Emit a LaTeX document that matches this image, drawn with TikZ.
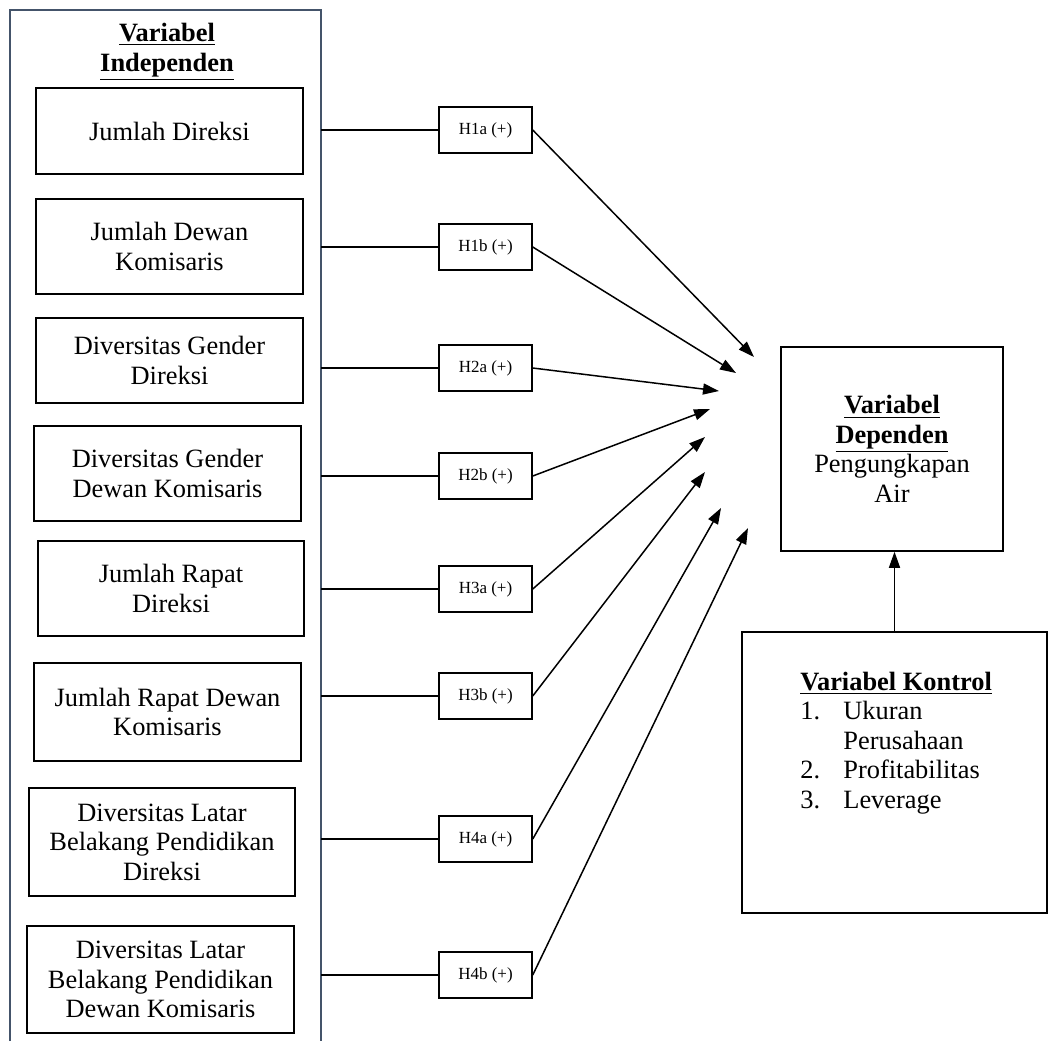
\documentclass[tikz,border=0pt]{standalone}
\usepackage{fontspec}
\setmainfont{Liberation Serif}
\usetikzlibrary{arrows.meta,calc}
\definecolor{framecol}{RGB}{68,84,106}
\begin{document}
\begin{tikzpicture}[x=0.5pt,y=-0.5pt,
  mainfont/.style={font=\fontsize{13.2}{14.8}\selectfont},
  varbox/.style={draw, line width=0.75pt, inner sep=0pt, align=center, mainfont, minimum width=133.5pt},
  hyp/.style={draw, line width=0.75pt, inner sep=0pt, minimum width=46.5pt, minimum height=23pt, font=\fontsize{8.5}{10}\selectfont},
  link/.style={line width=0.75pt},
  arr/.style={line width=0.75pt, -{Triangle[length=8pt,width=5.5pt]}},
  framestyle/.style={draw=framecol, line width=0.8pt}]
\useasboundingbox (0,0) rectangle (1050,1041);
\fill[white] (0,0) rectangle (1050,1041);

% outer frame (open at the bottom)
\draw[framestyle] (10,1041) -- (10,10) -- (321,10) -- (321,1041);
\coordinate (frR) at (321,10);

\node[mainfont, align=center, inner sep=0pt] (indep) at (167,52) {\underline{\textbf{Variabel}}\\\underline{\textbf{Independen}}};

% independent variable boxes
\node[varbox, minimum height=43pt] (v1) at (169.5,131) {Jumlah Direksi};
\node[varbox, minimum height=47.5pt] (v2) at (169.5,246.5) {Jumlah Dewan\\Komisaris};
\node[varbox, minimum height=42.5pt] (v3) at (169.5,360.5) {Diversitas Gender\\Direksi};
\node[varbox, minimum height=47.5pt] (v4) at (167.5,473.5) {Diversitas Gender\\Dewan Komisaris};
\node[varbox, minimum height=47.5pt, minimum width=133pt] (v5) at (171,588.5) {Jumlah Rapat\\Direksi};
\node[varbox, minimum height=49pt] (v6) at (167.5,712) {Jumlah Rapat Dewan\\Komisaris};
\node[varbox, minimum height=54pt, minimum width=133pt] (v7) at (162,842) {Diversitas Latar\\Belakang Pendidikan\\Direksi};
\node[varbox, minimum height=53.5pt] (v8) at (160.5,979.5) {Diversitas Latar\\Belakang Pendidikan\\Dewan Komisaris};

% hypothesis boxes
\node[hyp] (h1) at (485.5,130) {H1a (+)};
\node[hyp] (h2) at (485.5,247) {H1b (+)};
\node[hyp] (h3) at (485.5,368) {H2a (+)};
\node[hyp] (h4) at (485.5,476) {H2b (+)};
\node[hyp] (h5) at (485.5,589) {H3a (+)};
\node[hyp] (h6) at (485.5,696) {H3b (+)};
\node[hyp] (h7) at (485.5,839) {H4a (+)};
\node[hyp] (h8) at (485.5,975) {H4b (+)};

\foreach \h in {h1,h2,h3,h4,h5,h6,h7,h8}
  \draw[link] (\h.west -| frR) -- (\h.west);

% arrow tips
\coordinate (t1) at (754,357);
\coordinate (t2) at (736,373);
\coordinate (t3) at (719,391);
\coordinate (t4) at (710,409);
\coordinate (t5) at (705,437);
\coordinate (t6) at (705,472);
\coordinate (t7) at (721,508);
\coordinate (t8) at (748,528);

\draw[arr] (h1.east) -- (t1);
\draw[arr] (h2.east) -- (t2);
\draw[arr] (h3.east) -- (t3);
\draw[arr] (h4.east) -- (t4);
\draw[arr] (h5.east) -- (t5);
\draw[arr] (h6.east) -- (t6);
\draw[arr] (h7.east) -- (t7);
\draw[arr] (h8.east) -- (t8);

% dependent variable
\node[varbox, minimum width=111pt, minimum height=102pt] (dep) at (892,449)
  {\underline{\textbf{Variabel}}\\\underline{\textbf{Dependen}}\\Pengungkapan\\Air};

% control variables
\node[draw, line width=0.75pt, inner sep=0pt, minimum width=152.5pt, minimum height=140.5pt] (kon) at (894.5,772.5) {};
\node[mainfont, inner sep=0pt, anchor=north west] (kontxt) at (800,669)
  {\begin{tabular}{@{}p{21.5pt}@{}l@{}}
   \multicolumn{2}{@{}c@{}}{\underline{\textbf{Variabel Kontrol}}}\\
   1. & Ukuran\\
      & Perusahaan\\
   2. & Profitabilitas\\
   3. & Leverage
   \end{tabular}};

\draw[arr] (kon.north) -- (kon.north |- dep.south);
\end{tikzpicture}
\end{document}
